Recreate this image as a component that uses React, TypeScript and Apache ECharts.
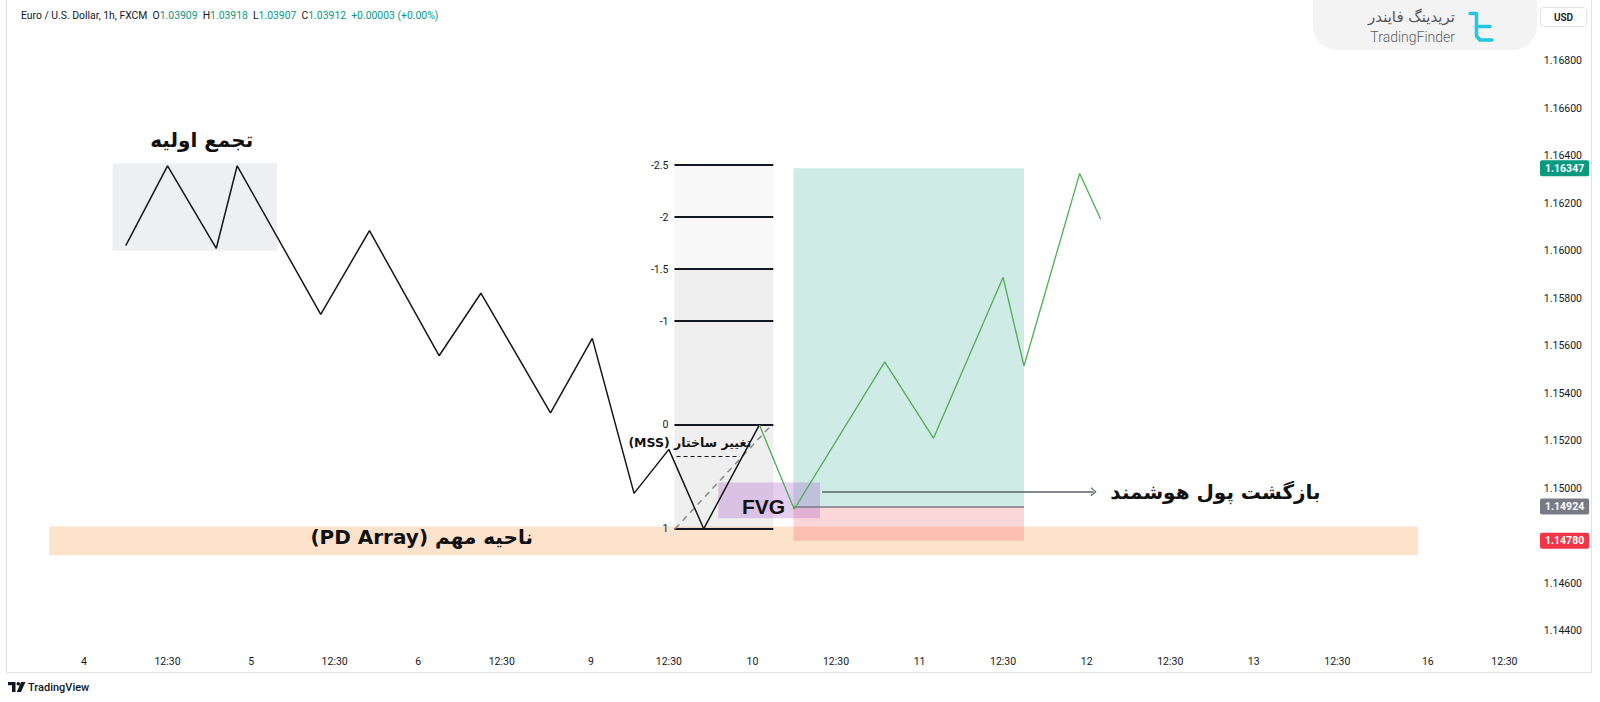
import React, { useEffect, useRef } from "react";
import * as echarts from "echarts";

// x unit: hours counted from the "4" day label
const timeLabels = ["4", "12:30", "5", "12:30", "6", "12:30", "9", "12:30", "10", "12:30", "11", "12:30", "12", "12:30", "13", "12:30", "16", "12:30"];
const timeLabelHours = [0, 12, 24, 36, 48, 60, 72.8, 84, 96, 108, 120, 132, 144, 156, 168, 180, 193, 204];
// 1.14800 sits under the stop-loss badge in the reference, so it is left out
const priceTicks = [1.144, 1.146, 1.15, 1.152, 1.154, 1.156, 1.158, 1.16, 1.162, 1.164, 1.166, 1.168];
const xRange = [-11.2, 204.8];
const yRange = [1.1432, 1.169704];

// price path (black part, then green part)
const downHours = [6, 12, 19, 22, 34, 41, 51, 57, 67, 73, 79, 84, 89, 97];
const downPrices = [1.16021, 1.16357, 1.1601, 1.16357, 1.15732, 1.16084, 1.15558, 1.15821, 1.15318, 1.15631, 1.14979, 1.15164, 1.1483, 1.15267];
const upHours = [97, 102, 115, 122, 132, 135, 143, 146];
const upPrices = [1.15267, 1.14912, 1.15532, 1.15211, 1.15888, 1.15515, 1.16325, 1.16133];

// fibonacci tool
const fibLevels = [-2.5, -2, -1.5, -1, 0, 1];
const fibHigh = 1.15267;
const fibLow = 1.1483;
const fibHours = [84.8, 99.0];

// zones
const accumHours = [4.1, 27.7];
const accumPrices = [1.16, 1.16368];
const positionHours = [101.9, 135.0];
const targetPrice = 1.16347;
const entryPrice = 1.14924;
const stopPrice = 1.1478;
const fvgHours = [91.1, 105.7];
const fvgPrices = [1.14874, 1.15025];
const pdHours = [-5.0, 191.6];
const pdPrices = [1.14719, 1.1484];

// annotation lines
const arrowHours = [106, 145];
const arrowPrice = 1.14986;
const mssHours = [85.1, 94.2];
const mssPrice = 1.15135;
const trendHours = [84.9, 98.5];
const trendPrices = [1.1483, 1.15259];

// annotation texts
const noteTexts = ["تجمع اولیه", "(PD Array) ناحیه مهم", "FVG", "(MSS) تغییر ساختار", "بازگشت پول هوشمند"];
const noteHours = [16.9, 48.5, 97.6, 87.0, 147.4];
const notePrices = [1.164655, 1.147954, 1.149258, 1.15192, 1.149847];

const badgePrices = [targetPrice, entryPrice, stopPrice];
const badgeColors = ["#089981", "#787b86", "#f23645"];

const FA = '"DejaVu Sans", "Noto Sans", sans-serif';
const UI = 'Roboto, "Noto Sans", sans-serif';
const INK = "#131722";

function fibPrice(level: number) {
  return fibHigh - level * (fibHigh - fibLow);
}

export default function App() {
  const ref = useRef<HTMLDivElement>(null);
  useEffect(() => {
    if (!ref.current) return;
    const chart = echarts.init(ref.current, undefined, { renderer: "svg" });

    const box = (h: number[], p: number[], color: string) => [
      { coord: [h[0], p[1]], itemStyle: { color } },
      { coord: [h[1], p[0]] },
    ];

    const fibLines = fibLevels.map((lv) => [
      {
        coord: [fibHours[0], fibPrice(lv)],
        lineStyle: { color: INK, width: 2, type: "solid" },
        label: { show: true, position: "start", formatter: String(lv), color: INK, fontSize: 10.5, fontFamily: UI, distance: 6 },
      },
      { coord: [fibHours[1], fibPrice(lv)] },
    ]);

    const option: any = {
      animation: false,
      backgroundColor: "#ffffff",
      grid: { left: 6, right: 90, top: 20, bottom: 52 },
      xAxis: {
        type: "value",
        min: xRange[0],
        max: xRange[1],
        axisLine: { show: false },
        axisTick: { show: false },
        splitLine: { show: false },
        axisLabel: {
          customValues: timeLabelHours,
          formatter: (v: number) => {
            const i = timeLabelHours.findIndex((t) => Math.abs(t - v) < 1e-6);
            return i >= 0 ? timeLabels[i] : "";
          },
          color: INK,
          fontSize: 10.5,
          fontFamily: UI,
          margin: 6,
        },
      },
      yAxis: {
        type: "value",
        position: "right",
        min: yRange[0],
        max: yRange[1],
        scale: true,
        axisLine: { show: false },
        axisTick: { show: false },
        splitLine: { show: false },
        axisLabel: {
          customValues: priceTicks,
          formatter: (v: number) => v.toFixed(5),
          align: "right",
          margin: 72,
          color: INK,
          fontSize: 10.5,
          fontFamily: UI,
        },
      },
      series: [
        {
          type: "line",
          name: "zones",
          data: [],
          z: 1,
          silent: true,
          markArea: {
            silent: true,
            data: [
              box(fibHours, [fibPrice(-1.5), fibPrice(-2.5)], "#f8f8f8"),
              box(fibHours, [fibPrice(1), fibPrice(-1.5)], "#efefef"),
              box(accumHours, accumPrices, "#eeeff2"),
              box(pdHours, pdPrices, "rgba(247,140,50,0.25)"),
              box(positionHours, [entryPrice, targetPrice], "rgba(8,153,129,0.2)"),
              box(positionHours, [stopPrice, entryPrice], "rgba(242,54,69,0.2)"),
              box(fvgHours, fvgPrices, "rgba(150,60,190,0.25)"),
            ],
          },
        },
        {
          type: "line",
          name: "levels",
          data: [],
          z: 3,
          silent: true,
          markLine: {
            silent: true,
            symbol: ["none", "none"],
            animation: false,
            data: [
              ...fibLines,
              [
                { coord: [positionHours[0], entryPrice], lineStyle: { color: "#787b86", width: 1.5, type: "solid" }, label: { show: false } },
                { coord: [positionHours[1], entryPrice] },
              ],
              [
                { coord: [mssHours[0], mssPrice], lineStyle: { color: INK, width: 1, type: [4, 3] }, label: { show: false } },
                { coord: [mssHours[1], mssPrice] },
              ],
              [
                { coord: [trendHours[0], trendPrices[0]], lineStyle: { color: "#8a8a8a", width: 1.5, type: [6, 5] }, label: { show: false } },
                { coord: [trendHours[1], trendPrices[1]] },
              ],
              [
                { coord: [arrowHours[0], arrowPrice], symbol: "none", lineStyle: { color: "#5d606b", width: 1.5, type: "solid" }, label: { show: false } },
                {
                  coord: [arrowHours[1], arrowPrice],
                  symbol: "path://M0,9 L5,0 L10,9 L8.8,10 L5,2.6 L1.2,10 Z",
                  symbolSize: [9, 6],
                  itemStyle: { color: "#5d606b" },
                },
              ],
            ],
          },
        },
        {
          type: "line",
          name: "price",
          data: downHours.map((h, i) => [h, downPrices[i]]),
          showSymbol: false,
          symbol: "none",
          z: 5,
          silent: true,
          lineStyle: { color: "#161616", width: 1.5 },
        },
        {
          type: "line",
          name: "price2",
          data: upHours.map((h, i) => [h, upPrices[i]]),
          showSymbol: false,
          symbol: "none",
          z: 5,
          silent: true,
          lineStyle: { color: "#4caf50", width: 1.3 },
        },
        {
          type: "line",
          name: "notes",
          data: [],
          z: 6,
          silent: true,
          markPoint: {
            silent: true,
            symbol: "circle",
            symbolSize: 0,
            itemStyle: { color: "transparent" },
            data: noteTexts.map((t, i) => {
              const isFvg = t === "FVG";
              const isMss = i === 3;
              const isRight = i === 4;
              return {
                coord: [noteHours[i], notePrices[i]],
                label: {
                  show: true,
                  position: isRight ? "right" : "inside",
                  distance: 0,
                  formatter: t,
                  color: "#111111",
                  fontWeight: "bold",
                  fontFamily: isFvg ? '"Liberation Sans", Arial, sans-serif' : FA,
                  fontSize: isFvg ? 21 : isMss ? 12.5 : 20,
                },
              };
            }),
          },
        },
        {
          type: "line",
          name: "badges",
          data: [],
          z: 8,
          silent: true,
          markLine: {
            silent: true,
            symbol: ["none", "none"],
            data: badgePrices.map((p, i) => [
              {
                coord: [xRange[0], p],
                lineStyle: { color: "rgba(0,0,0,0)", width: 1, type: "solid" },
                label: {
                  show: true,
                  position: "end",
                  distance: 30,
                  formatter: p.toFixed(5),
                  color: "#ffffff",
                  fontSize: 10.5,
                  fontWeight: "bold",
                  fontFamily: UI,
                  padding: [3, 5, 2, 5],
                  borderRadius: 2,
                  backgroundColor: badgeColors[i],
                  opacity: 1,
                },
              },
              { coord: [xRange[1], p] },
            ]),
          },
        },
      ],
      graphic: [
        {
          type: "rect",
          z: -10,
          shape: { x: 6.5, y: -2, width: 1585, height: 674.5 },
          style: { fill: "none", stroke: "#e0e3eb", lineWidth: 1 },
        },
        {
          type: "text",
          x: 21,
          y: 15,
          style: {
            text:
              "Euro / U.S. Dollar, 1h, FXCM  O{g|1.03909}  H{g|1.03918}  L{g|1.03907}  C{g|1.03912}  {g|+0.00003 (+0.00%)}",
            fill: INK,
            font: `10.4px ${UI}`,
            verticalAlign: "middle",
            rich: { g: { fill: "#089981", font: `10.4px ${UI}` } },
          },
        },
        {
          type: "rect",
          shape: { x: 1313, y: -30, width: 224, height: 80, r: 24 },
          style: { fill: "#f3f3f4" },
        },
        {
          type: "text",
          x: 1455,
          y: 17,
          style: { text: "تریدینگ فایندر", fill: "#555555", font: `15px ${FA}`, align: "right", verticalAlign: "middle" },
        },
        {
          type: "text",
          x: 1455,
          y: 37,
          style: { text: "TradingFinder", fill: "#5f5f5f", font: `300 14px ${UI}`, align: "right", verticalAlign: "middle" },
        },
        {
          type: "polyline",
          shape: { points: [[1470, 13.5], [1476.5, 13.5], [1476.5, 36], [1480, 40], [1492, 40]] },
          style: { stroke: "#25c6e2", lineWidth: 3.5, fill: "none", lineJoin: "round", lineCap: "round" },
        },
        {
          type: "polyline",
          shape: { points: [[1476.5, 26.5], [1490, 26.5]] },
          style: { stroke: "#25c6e2", lineWidth: 3.5, fill: "none", lineCap: "round" },
        },
        {
          type: "rect",
          shape: { x: 1540.5, y: 7.5, width: 46, height: 19, r: 3 },
          style: { fill: "#ffffff", stroke: "#e0e3eb", lineWidth: 1 },
        },
        {
          type: "text",
          x: 1563.5,
          y: 17,
          style: { text: "USD", fill: INK, font: `600 10px ${UI}`, align: "center", verticalAlign: "middle" },
        },
        {
          type: "polygon",
          shape: { points: [[8, 682], [15.5, 682], [15.5, 692], [12, 692], [12, 685.2], [8, 685.2]] },
          style: { fill: INK },
        },
        { type: "circle", shape: { cx: 18.3, cy: 683.8, r: 1.8 }, style: { fill: INK } },
        {
          type: "polygon",
          shape: { points: [[21, 682], [25.5, 682], [21, 692], [16.8, 692]] },
          style: { fill: INK },
        },
        {
          type: "text",
          x: 28,
          y: 687,
          style: { text: "TradingView", fill: INK, font: `500 11px ${UI}`, verticalAlign: "middle" },
        },
      ],
    };
    chart.setOption(option);
    return () => chart.dispose();
  }, []);
  return <div ref={ref} style={{ position: "fixed", left: 0, top: 0, width: 1600, height: 702 }} />;
}
